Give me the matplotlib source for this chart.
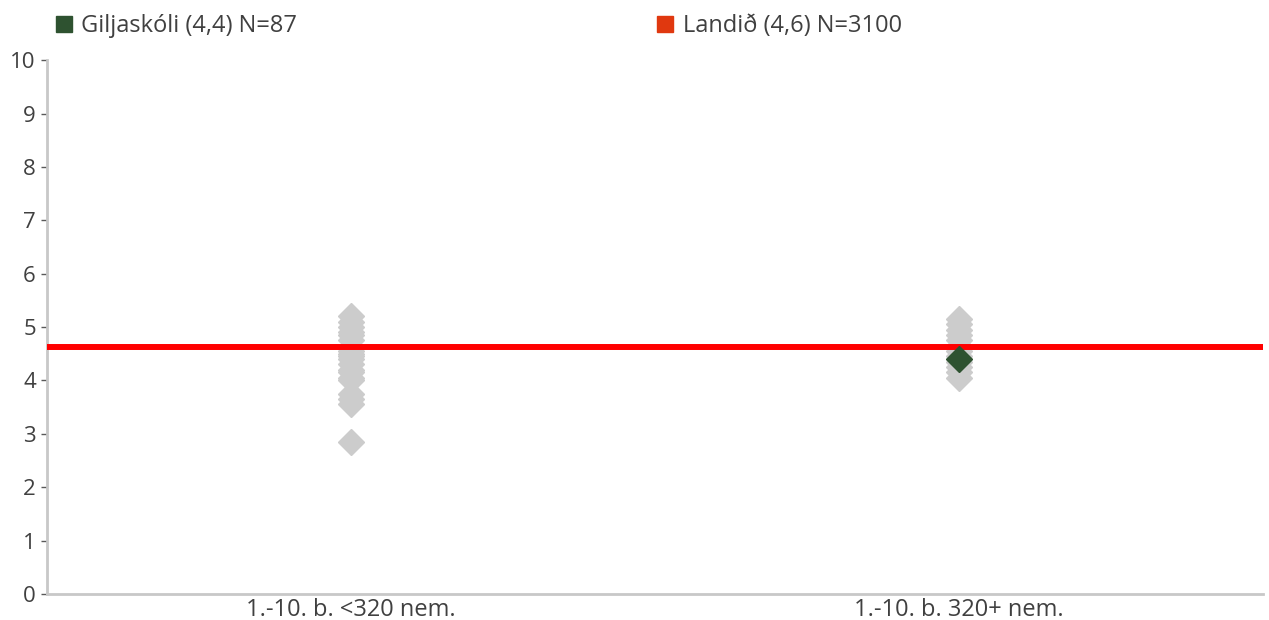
import matplotlib.pyplot as plt
from matplotlib.lines import Line2D

plt.rcParams['font.family'] = ['Open Sans', 'DejaVu Sans']

# Gögn
flokkar = ['1.-10. b. <320 nem.', '1.-10. b. 320+ nem.']
skolar_litlir = [5.2, 5.1, 5.0, 4.9, 4.85, 4.75, 4.6, 4.55, 4.5, 4.45, 4.4,
                 4.3, 4.2, 4.15, 4.05, 4.0, 3.75, 3.65, 3.56, 2.85]
skolar_storir = [5.15, 5.05, 4.95, 4.85, 4.75, 4.65, 4.55, 4.45, 4.35,
                 4.25, 4.15, 4.05]
giljaskoli = 4.4
giljaskoli_flokkur = 1
landid = 4.62
merki = ['Giljaskóli (4,4) N=87', 'Landið (4,6) N=3100']
y_ticks = list(range(0, 11))

textalitur = '#404040'
graenn = '#2e5230'
rauður_merki = '#e0380f'
grar = '#cccccc'

fig = plt.figure(figsize=(12.69, 6.2), dpi=100)
ax = fig.add_axes([0.037, 0.042, 0.958, 0.861])

ax.plot([0] * len(skolar_litlir), skolar_litlir, ls='', marker='D', ms=13,
        color=grar, mec=grar, zorder=2)
ax.plot([1] * len(skolar_storir), skolar_storir, ls='', marker='D', ms=13,
        color=grar, mec=grar, zorder=2)
ax.axhline(landid, color='#ff0000', lw=4.3, zorder=3)
ax.plot([giljaskoli_flokkur], [giljaskoli], ls='', marker='D', ms=13,
        color=graenn, mec=graenn, zorder=4)

ax.set_xlim(-0.5, 1.5)
ax.set_ylim(0, 10)
ax.set_yticks(y_ticks)
ax.set_xticks([0, 1])
ax.set_xticklabels(flokkar)

for s in ['top', 'right']:
    ax.spines[s].set_visible(False)
for s in ['left', 'bottom']:
    ax.spines[s].set_color('#c8c8c8')
    ax.spines[s].set_linewidth(2)

ax.tick_params(axis='y', colors='#595959', labelcolor=textalitur,
               labelsize=16, length=4, width=1, pad=4)
ax.tick_params(axis='x', colors=textalitur, labelsize=17, length=0, pad=3)

h1 = Line2D([], [], ls='', marker='s', ms=12, color=graenn)
h2 = Line2D([], [], ls='', marker='s', ms=12, color=rauður_merki)
for h, m, x in [(h1, merki[0], 0.040), (h2, merki[1], 0.514)]:
    fig.legend(handles=[h], labels=[m], loc='upper left',
               bbox_to_anchor=(x, 0.985), frameon=False, fontsize=17,
               handlelength=0.7, handletextpad=0.4, borderpad=0.2,
               borderaxespad=0, labelcolor=textalitur)

fig.savefig('out.png', dpi=100)
